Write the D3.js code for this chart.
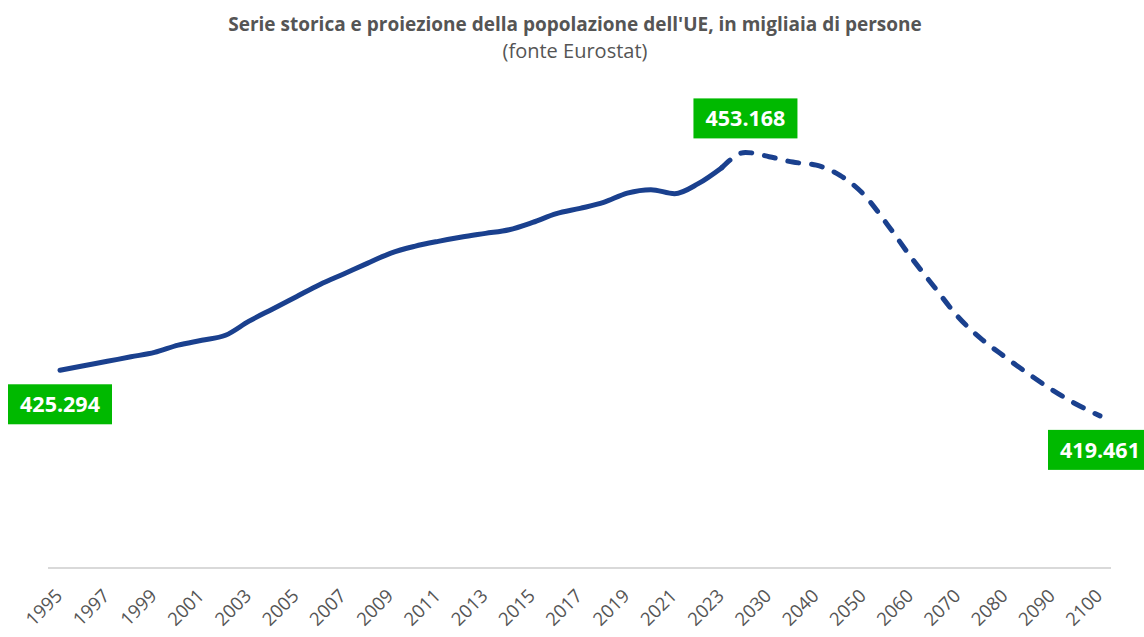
<!DOCTYPE html>
<html>
<head>
<meta charset="utf-8">
<script src="https://cdn.jsdelivr.net/npm/d3@7"></script>
<style>
  body { margin: 0; background: #fff; }
  text { font-family: "Open Sans", sans-serif; }
</style>
</head>
<body>
<div id="chart"></div>
<script>
const years = [
  '1995', '1996', '1997', '1998', '1999', '2000', '2001', '2002', '2003', '2004',
  '2005', '2006', '2007', '2008', '2009', '2010', '2011', '2012', '2013', '2014',
  '2015', '2016', '2017', '2018', '2019', '2020', '2021', '2022', '2023', '2025',
  '2030', '2035', '2040', '2045', '2050', '2055', '2060', '2065', '2070', '2075',
  '2080', '2085', '2090', '2095', '2100'
];
const population = [
  425294, 425870, 426440, 427020, 427580, 428520, 429130, 429770, 431580, 433140,
  434710, 436280, 437620, 438970, 440290, 441150, 441790, 442340, 442810, 443280,
  444220, 445330, 446010, 446770, 447960, 448400, 447890, 449170, 451220, 453168,
  452620, 451930, 451540, 450230, 447800, 443960, 439780, 435910, 432110, 429260,
  426960, 424780, 422740, 420950, 419461
];
const tickYears = [
  '1995', '1997', '1999', '2001', '2003', '2005', '2007', '2009', '2011', '2013',
  '2015', '2017', '2019', '2021', '2023', '2030', '2040', '2050', '2060', '2070',
  '2080', '2090', '2100'
];
// last year of the historical series, projection starts from here
const lastObserved = '2023';
const labelledYears = ['1995', '2025', '2100'];

const width = 1144;
const height = 637;

const svg = d3.select('#chart')
  .append('svg')
    .attr('width', width)
    .attr('height', height);

svg.append('text')
    .attr('x', 575)
    .attr('y', 31)
    .attr('text-anchor', 'middle')
    .attr('font-size', 19)
    .attr('font-weight', 700)
    .attr('fill', '#555')
    .text("Serie storica e proiezione della popolazione dell'UE, in migliaia di persone");

svg.append('text')
    .attr('x', 575)
    .attr('y', 58)
    .attr('text-anchor', 'middle')
    .attr('font-size', 20)
    .attr('font-weight', 400)
    .attr('fill', '#555')
    .text('(fonte Eurostat)');

const x = d3.scalePoint()
  .domain(years)
  .range([60, 1100]);

const y = d3.scaleLinear()
  .domain([400000, 460000])
  .range([568, 99]);

const xAxis = svg.append('g')
    .attr('transform', `translate(0,${y(400000)})`)
    .call(d3.axisBottom(x).tickValues(tickYears).tickSize(0).tickPadding(0));

xAxis.select('.domain')
    .attr('d', `M48,0H1111`)
    .attr('stroke', '#d9d9d9')
    .attr('stroke-width', 2);

xAxis.selectAll('.tick text')
    .attr('fill', '#555')
    .attr('font-size', 18.5)
    .attr('font-weight', 400)
    .attr('font-family', '"Open Sans", sans-serif')
    .attr('text-anchor', 'end')
    .attr('dy', 0)
    .attr('y', 0)
    .attr('transform', 'translate(3,29) rotate(-45)');

const points = years.map((d, i) => ({ year: d, value: population[i] }));
const cut = years.indexOf(lastObserved);

const line = d3.line()
  .x(d => x(d.year))
  .y(d => y(d.value))
  .curve(d3.curveMonotoneX);

svg.append('path')
    .datum(points.slice(0, cut + 1))
    .attr('d', line)
    .attr('fill', 'none')
    .attr('stroke', '#1a408e')
    .attr('stroke-width', 5)
    .attr('stroke-linecap', 'round')
    .attr('stroke-linejoin', 'round');

svg.append('path')
    .datum(points.slice(cut))
    .attr('d', line)
    .attr('fill', 'none')
    .attr('stroke', '#1a408e')
    .attr('stroke-width', 5)
    .attr('stroke-linecap', 'round')
    .attr('stroke-linejoin', 'round')
    .attr('stroke-dasharray', '11,13');

const fmt = d3.formatLocale({ decimal: ',', thousands: '.', grouping: [3] }).format(',d');

const labelW = 104;
const labelH = 40;
const labels = svg.selectAll('.value-label')
  .data(points.filter(d => labelledYears.includes(d.year)))
  .join('g')
    .attr('class', 'value-label')
    .attr('transform', d => {
      const top = d.year === '2025' ? y(d.value) - 14 - labelH : y(d.value) + 14;
      return `translate(${x(d.year)},${top})`;
    });

labels.append('rect')
    .attr('x', -labelW / 2)
    .attr('width', labelW)
    .attr('height', labelH)
    .attr('fill', '#00b900');

labels.append('text')
    .attr('x', 0)
    .attr('y', labelH / 2)
    .attr('dy', '0.36em')
    .attr('text-anchor', 'middle')
    .attr('font-size', 21.5)
    .attr('font-weight', 700)
    .attr('fill', '#fff')
    .text(d => fmt(d.value));
</script>
</body>
</html>
